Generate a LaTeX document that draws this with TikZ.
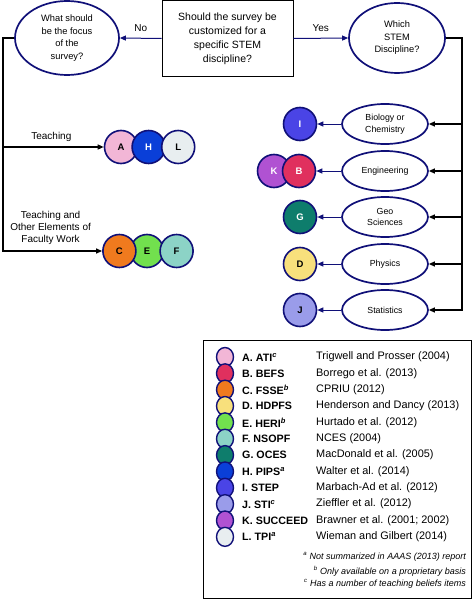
\documentclass[tikz,border=0pt]{standalone}
\usepackage{fontspec}
\setmainfont{Liberation Sans}
\definecolor{navyline}{RGB}{16, 16, 120}
\definecolor{atipink}{RGB}{242, 182, 214}
\definecolor{befsred}{RGB}{224, 48, 94}
\definecolor{fsseorange}{RGB}{240, 122, 30}
\definecolor{hdpfsyellow}{RGB}{248, 224, 124}
\definecolor{herigreen}{RGB}{114, 224, 78}
\definecolor{nsopfteal}{RGB}{140, 211, 198}
\definecolor{ocesteal}{RGB}{14, 125, 108}
\definecolor{pipsblue}{RGB}{10, 63, 216}
\definecolor{stepblue}{RGB}{74, 68, 230}
\definecolor{stilav}{RGB}{154, 156, 234}
\definecolor{succpurple}{RGB}{176, 82, 210}
\definecolor{tpigray}{RGB}{232, 238, 240}
\usepackage{tikz}
\usetikzlibrary{shapes.geometric, arrows.meta, positioning, calc}

\tikzset{
  question/.style={ellipse, draw=navyline, line width=1.7pt, fill=white, align=center, inner sep=0pt},
  discipline/.style={question, minimum width=86pt, minimum height=40pt, font=\fontsize{8.8}{11.5}\selectfont},
  survey/.style={circle, draw=navyline, line width=1.6pt, minimum size=33pt, inner sep=0pt, font=\fontsize{9.5}{9.5}\selectfont\bfseries},
  keydot/.style={ellipse, draw=navyline, line width=1.4pt, minimum width=17pt, minimum height=19pt, inner sep=0pt},
  navyarrow/.style={draw=navyline, line width=1pt, -{Triangle[length=6pt, width=5pt]}},
  blackarrow/.style={draw=black, line width=1.2pt, -{Triangle[length=6pt, width=5pt]}},
}

\begin{document}
\begin{tikzpicture}[x=1pt, y=-1pt]
  \useasboundingbox (0,0) rectangle (473,599);

  % questions
  \node[draw, line width=0.9pt, minimum width=131pt, minimum height=76pt, align=center,
        font=\fontsize{10.5}{14}\selectfont] (custom) at (227.5,38.5)
        {Should the survey be\\customized for a\\specific STEM\\discipline?};
  \node[question, minimum width=104pt, minimum height=74pt, font=\fontsize{9.3}{12.7}\selectfont] (focus) at (67,38)
        {What should\\be the focus\\of the\\survey?};
  \node[question, minimum width=96pt, minimum height=70pt, font=\fontsize{9.3}{12.5}\selectfont] (stem) at (397,38)
        {Which\\STEM\\Discipline?};

  \draw[navyarrow] (custom.west) -- node[above=3pt, font=\fontsize{10}{10}\selectfont] {No} (focus.east);
  \draw[navyarrow] (custom.east) -- node[above=3pt, font=\fontsize{10}{10}\selectfont] {Yes} (stem.west);

  % focus branch
  \node[survey, fill=atipink] (A) at (121,147) {A};
  \node[survey, fill=pipsblue, text=white, right=-7pt of A] (H) {H};
  \node[survey, fill=tpigray, right=-5pt of H] (L) {L};
  \node[survey, fill=herigreen] (E) at (147,251) {E};
  \node[survey, fill=fsseorange, left=-7pt of E] (C) {C};
  \node[survey, fill=nsopfteal, right=-5pt of E] (F) {F};

  \coordinate (leftbus) at (3,38);
  \draw[blackarrow] (focus.west) -- (leftbus) |- node[pos=0.74, above=1pt, font=\fontsize{10}{10}\selectfont] {Teaching} (A.west);
  \draw[blackarrow] (focus.west) -- (leftbus) |- node[pos=0.74, above=2pt, align=center, font=\fontsize{10}{12}\selectfont]
        {Teaching and\\Other Elements of\\Faculty Work} (C.west);

  % discipline branch
  \node[discipline] (bio) at (385,124) {Biology or\\Chemistry};
  \node[discipline] (eng) at (385,171) {Engineering};
  \node[discipline] (geo) at (385,217) {Geo\\Sciences};
  \node[discipline] (phy) at (385,264) {Physics};
  \node[discipline] (sta) at (385,310) {Statistics};

  \node[survey, fill=stepblue, text=white] (I) at (300,124) {I};
  \node[survey, fill=succpurple, text=white] (K) at (274,171) {K};
  \node[survey, fill=befsred, text=white] (B) at (299,171) {B};
  \node[survey, fill=ocesteal, text=white] (G) at (300,217) {G};
  \node[survey, fill=hdpfsyellow] (D) at (300,264) {D};
  \node[survey, fill=stilav] (J) at (300,310) {J};

  \coordinate (rightbus) at (462,38);
  \foreach \disc/\tag in {bio/I, eng/B, geo/G, phy/D, sta/J} {
    \draw[blackarrow] (stem.east) -- (rightbus) |- (\disc.east);
    \draw[navyarrow] (\disc.west) -- (\tag.east);
  }

  % key
  \draw[line width=1pt] (203,340) rectangle (471,598);
  \foreach \col/\name/\source [count=\i from 0] in {
      atipink/{A. ATI\textsuperscript{\itshape c}}/{Trigwell and Prosser (2004)},
      befsred/{B. BEFS}/{Borrego et al. (2013)},
      fsseorange/{C. FSSE\textsuperscript{\itshape b}}/{CPRIU (2012)},
      hdpfsyellow/{D. HDPFS}/{Henderson and Dancy (2013)},
      herigreen/{E. HERI\textsuperscript{\itshape b}}/{Hurtado et al. (2012)},
      nsopfteal/{F. NSOPF}/{NCES (2004)},
      ocesteal/{G. OCES}/{MacDonald et al. (2005)},
      pipsblue/{H. PIPS\textsuperscript{\itshape a}}/{Walter et al. (2014)},
      stepblue/{I. STEP}/{Marbach-Ad et al. (2012)},
      stilav/{J. STI\textsuperscript{\itshape c}}/{Zieffler et al. (2012)},
      succpurple/{K. SUCCEED}/{Brawner et al. (2001; 2002)},
      tpigray/{L. TPI\textsuperscript{\itshape a}}/{Wieman and Gilbert (2014)}} {
    \node[keydot, fill=\col] (dot\i) at (225,{357+16.35*\i}) {};
    \node[anchor=west, inner sep=0pt, font=\fontsize{10.7}{10.7}\selectfont\bfseries] (name\i) at (242,{357+16.35*\i}) {\name};
    \node[anchor=west, inner sep=0pt, font=\fontsize{10.9}{10.9}\selectfont] (src\i) at (316,{357+16.35*\i}) {\source};
  }
  \node[anchor=east, inner sep=0pt, font=\fontsize{9}{9}\selectfont\itshape] (notea) at (466,557)
        {\textsuperscript{a} Not summarized in AAAS (2013) report};
  \node[anchor=east, inner sep=0pt, font=\fontsize{9}{9}\selectfont\itshape] (noteb) at (466,571)
        {\textsuperscript{b} Only available on a proprietary basis};
  \node[anchor=east, inner sep=0pt, font=\fontsize{9}{9}\selectfont\itshape] (notec) at (466,584)
        {\textsuperscript{c} Has a number of teaching beliefs items};
\end{tikzpicture}
\end{document}
